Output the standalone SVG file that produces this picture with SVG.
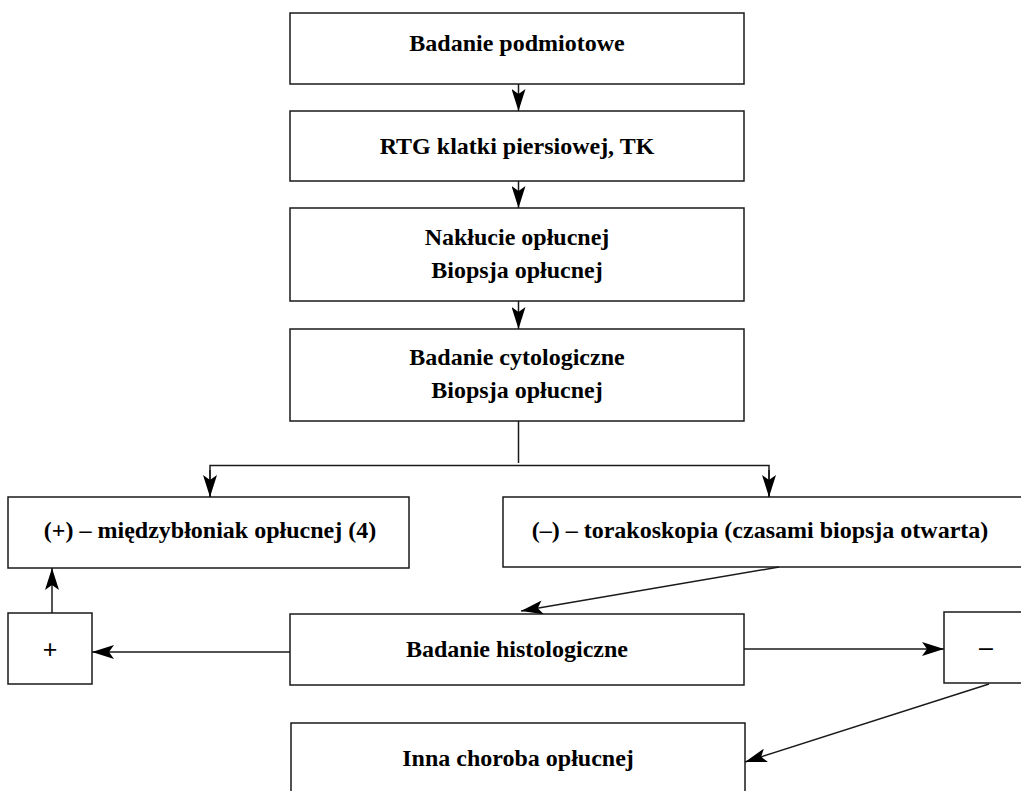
<svg xmlns="http://www.w3.org/2000/svg" width="1021" height="791" viewBox="0 0 1021 791">
<style>
.box{fill:#fff;stroke:#1a1a1a;stroke-width:1.5}
.t{font-family:"Liberation Serif","Times New Roman",serif;font-weight:bold;font-size:24px;fill:#000;text-anchor:middle}
.s{font-family:"Liberation Sans",Arial,sans-serif;font-size:25px;fill:#000;text-anchor:middle}
.c{fill:none;stroke:#1a1a1a;stroke-width:1.5}
</style>
<defs>
<marker id="ah" markerUnits="userSpaceOnUse" markerWidth="24" markerHeight="14" refX="22" refY="7" orient="auto" viewBox="0 0 24 14">
<path d="M0,0 L22,7 L0,14 L5,7 z" fill="#000"/>
</marker>
</defs>
<rect width="1021" height="791" fill="#fff"/>
<g id="n1"><rect class="box" x="290" y="13" width="454" height="71"/><text class="t" x="517" y="51">Badanie podmiotowe</text></g>
<g id="n2"><rect class="box" x="290" y="111" width="454" height="70"/><text class="t" x="517" y="154">RTG klatki piersiowej, TK</text></g>
<g id="n3"><rect class="box" x="290" y="208" width="454" height="93"/><text class="t" x="517" y="245">Nakłucie opłucnej</text><text class="t" x="517" y="278">Biopsja opłucnej</text></g>
<g id="n4"><rect class="box" x="290" y="329" width="454" height="92"/><text class="t" x="517" y="365">Badanie cytologiczne</text><text class="t" x="517" y="398">Biopsja opłucnej</text></g>
<g id="n5"><rect class="box" x="8" y="497" width="401" height="71"/><text class="t" x="210" y="538">(+) – międzybłoniak opłucnej (4)</text></g>
<g id="n6"><rect class="box" x="503" y="497" width="530" height="70"/><text class="t" x="760" y="538">(–) – torakoskopia (czasami biopsja otwarta)</text></g>
<g id="n7"><rect class="box" x="8" y="613" width="84" height="71"/><text class="s" x="50" y="658">+</text></g>
<g id="n8"><rect class="box" x="290" y="614" width="454" height="71"/><text class="t" x="517" y="657">Badanie histologiczne</text></g>
<g id="n9"><rect class="box" x="944" y="612" width="84" height="71"/><text class="s" x="986" y="656">–</text></g>
<g id="n10"><rect class="box" x="291" y="723" width="454" height="80"/><text class="t" x="518" y="766">Inna choroba opłucnej</text></g>
<g id="connectors">
<line class="c" x1="518.5" y1="84" x2="518.5" y2="111" marker-end="url(#ah)"/>
<line class="c" x1="518.5" y1="181" x2="518.5" y2="208" marker-end="url(#ah)"/>
<line class="c" x1="518.5" y1="301" x2="518.5" y2="329" marker-end="url(#ah)"/>
<line class="c" x1="518.5" y1="421" x2="518.5" y2="463"/>
<polyline class="c" points="210,497 210,465.5 769,465.5 769,497"/>
<line class="c" x1="210" y1="470" x2="210" y2="497" marker-end="url(#ah)"/>
<line class="c" x1="769" y1="470" x2="769" y2="497" marker-end="url(#ah)"/>
<line class="c" x1="779" y1="567" x2="521" y2="611" marker-end="url(#ah)"/>
<line class="c" x1="290" y1="652" x2="92" y2="652" marker-end="url(#ah)"/>
<line class="c" x1="52" y1="613" x2="52" y2="568" marker-end="url(#ah)"/>
<line class="c" x1="744" y1="649" x2="944" y2="649" marker-end="url(#ah)"/>
<line class="c" x1="989" y1="684" x2="745" y2="762" marker-end="url(#ah)"/>
</g>
</svg>
